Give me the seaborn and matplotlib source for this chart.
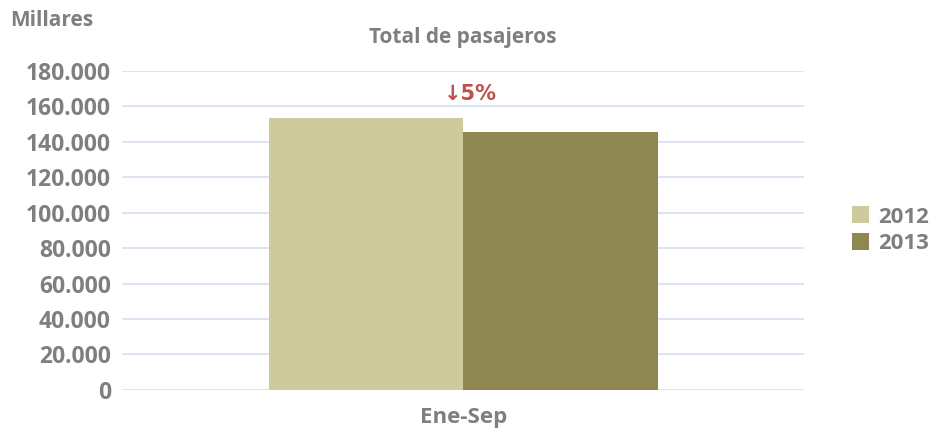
import pandas as pd
import seaborn as sns
import matplotlib.pyplot as plt
from matplotlib.ticker import FuncFormatter

# data (miles de pasajeros)
periods = ['Ene-Sep', 'Ene-Sep']
years = ['2012', '2013']
passengers = [153500, 145800]
change_label = '\u21935%'

df = pd.DataFrame({'Periodo': periods, 'Año': years, 'Pasajeros': passengers})

sns.set_theme(style="white")
plt.rcParams['font.family'] = ['Open Sans', 'DejaVu Sans']
grey = '#7F7F7F'

fig = plt.figure(figsize=(9.32, 4.41), dpi=100)
ax = fig.add_axes([0.131, 0.116, 0.732, 0.723])

ax = sns.barplot(data=df, x='Periodo', y='Pasajeros', hue='Año',
                 palette=['#CFC99E', '#8F8751'], width=0.57, saturation=1,
                 linewidth=0, ax=ax, zorder=3)

ax.set_ylim(0, 180000)
ax.set_yticks(range(0, 180001, 20000))
ax.yaxis.set_major_formatter(FuncFormatter(lambda v, p: f'{int(v):,}'.replace(',', '.')))
ax.grid(axis='y', color='#D6DFF0', linewidth=1.2, zorder=0)
for s in ax.spines.values():
    s.set_visible(False)
ax.tick_params(axis='y', length=0, pad=8, labelsize=16.5, labelcolor=grey)
ax.tick_params(axis='x', length=0, pad=12, labelsize=16, labelcolor=grey)
for lbl in ax.get_yticklabels() + ax.get_xticklabels():
    lbl.set_fontweight('bold')
ax.set_xlabel(None)
ax.set_ylabel(None)

ax.set_title('Total de pasajeros', fontsize=15, color=grey, fontweight='bold', pad=20)
fig.text(0.011, 0.94, 'Millares', fontsize=15, color=grey, fontweight='bold')

# decline label
ax.text(0.01, 167000, change_label, ha='center', va='center', fontsize=15,
        color='#C0504D', fontweight='bold', family=['DejaVu Sans'])

leg = ax.legend(loc='center left', bbox_to_anchor=(1.04, 0.5), frameon=False,
                fontsize=16, handlelength=0.8, handleheight=0.8,
                handletextpad=0.4, labelspacing=0.25)
for t in leg.get_texts():
    t.set_color(grey)
    t.set_fontweight('bold')

fig.savefig('out.png', dpi=100)
